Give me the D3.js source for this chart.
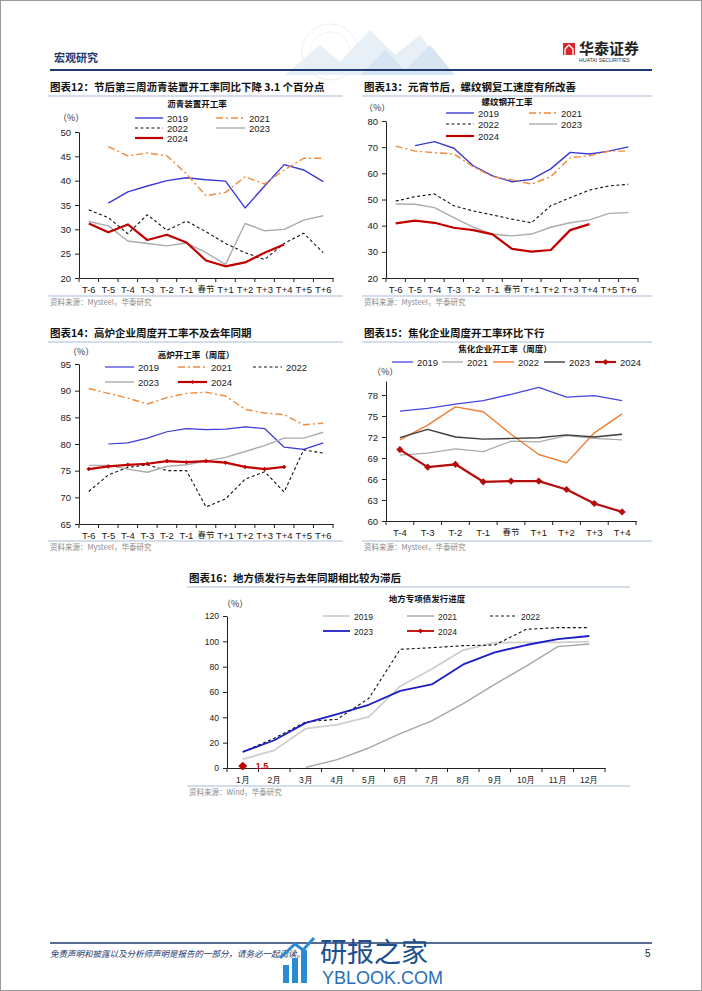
<!DOCTYPE html>
<html><head><meta charset="utf-8">
<script src="https://cdn.jsdelivr.net/npm/d3@7"></script>
<style>body{margin:0;background:#fff}svg{display:block}</style>
</head><body>
<svg id="c" width="702" height="991"></svg>
<script>
// ---------- DATA ----------
const catsT13 = ["T-6","T-5","T-4","T-3","T-2","T-1","春节","T+1","T+2","T+3","T+4","T+5","T+6"];
const catsT9 = ["T-4","T-3","T-2","T-1","春节","T+1","T+2","T+3","T+4"];
const months = ["1月","2月","3月","4月","5月","6月","7月","8月","9月","10月","11月","12月"];

const asphalt2019 = [null,35.4,37.7,38.9,40.0,40.6,40.2,39.9,34.4,38.9,43.3,42.2,39.8];
const asphalt2021 = [null,47.0,45.1,45.7,45.1,41.4,36.9,37.6,40.8,39.3,42.2,44.6,44.6];
const asphalt2022 = [34.0,32.4,29.1,33.0,29.8,31.7,29.5,27.1,25.2,23.8,27.1,29.2,25.2];
const asphalt2023 = [31.6,30.7,27.6,27.1,26.6,27.2,25.2,22.8,31.2,29.7,30.0,31.9,32.8];
const asphalt2024 = [31.2,29.4,31.0,27.8,28.9,27.3,23.6,22.4,23.2,25.2,26.9,null,null];

const rebar2019 = [null,70.6,72.1,69.6,62.9,59.0,56.8,57.7,61.7,68.0,67.4,68.5,70.1];
const rebar2021 = [70.4,68.5,67.9,67.4,62.5,58.7,57.5,55.9,58.7,66.0,66.7,68.5,68.5];
const rebar2022 = [49.4,51.1,52.1,47.6,45.6,44.1,42.5,41.1,47.6,50.7,53.6,55.2,55.8];
const rebar2023 = [48.3,48.2,46.9,43.1,39.4,36.8,36.1,36.8,39.4,41.1,42.2,44.7,45.0];
const rebar2024 = [40.9,41.9,41.1,39.2,38.3,36.7,31.1,30.1,30.7,38.3,40.6,null,null];

const blast2019 = [null,80.0,80.2,81.1,82.3,82.9,82.7,82.8,83.2,82.9,79.4,79.0,80.2];
const blast2021 = [90.4,89.5,88.6,87.5,88.7,89.5,89.7,89.0,86.5,85.8,85.5,83.6,83.9];
const blast2022 = [71.1,74.2,75.6,76.1,75.0,75.0,68.2,69.7,73.4,74.8,71.0,78.9,78.3];
const blast2023 = [76.0,76.0,75.3,74.7,75.8,76.1,76.8,77.5,78.6,79.7,81.1,81.1,82.2];
const blast2024 = [75.3,75.8,76.1,76.3,76.8,76.6,76.8,76.5,75.7,75.3,75.7,null,null];

const coke2019 = [75.7,76.1,76.7,77.2,78.1,79.1,77.7,77.9,77.2];
const coke2021 = [69.4,69.7,70.3,69.9,71.4,71.3,72.2,71.8,71.6];
const coke2022 = [71.6,73.7,76.3,75.6,72.4,69.5,68.3,72.6,75.3];
const coke2023 = [71.9,73.1,72.0,71.7,71.8,71.9,72.3,72.0,72.4];
const coke2024 = [70.2,67.7,68.1,65.6,65.7,65.7,64.5,62.5,61.3];

const bond2019 = [6.9,14.0,31.1,34.3,40.4,64.6,78.1,93.1,98.9,99.2,99.2,99.7];
const bond2021 = [null,null,0.5,6.6,15.8,27.2,37.2,50.9,66.0,80.5,95.8,97.9];
const bond2022 = [12.7,23.5,36.4,38.5,54.9,93.7,95.0,96.6,97.1,109.5,110.8,110.8];
const bond2023 = [12.7,21.9,35.6,42.5,49.9,60.9,66.0,81.8,91.3,97.1,101.8,104.2];
const bond2024 = [1.5,null,null,null,null,null,null,null,null,null,null,null];

const ticks12 = [20,25,30,35,40,45,50];
const ticks13 = [20,30,40,50,60,70,80];
const ticks14 = [65,70,75,80,85,90,95];
const ticks15 = [60,63,66,69,72,75,78];
const ticks16 = [0,20,40,60,80,100,120];

// ---------- DRAW ----------
const svg = d3.select("#c");
const CJK = "'Noto Sans CJK SC', sans-serif";
const LAT = "'Liberation Sans', Arial, sans-serif";
const NAVY = "#1f3a6e";
const SEP = "#a9bbd6";

svg.append("rect").attr("x",0.5).attr("y",0.5).attr("width",701).attr("height",990)
  .attr("fill","none").attr("stroke","#9a9a9a").attr("stroke-width",1);

// header faint graphic
const hg = svg.append("g").attr("opacity",0.35);
hg.append("circle").attr("cx",330).attr("cy",52).attr("r",28).attr("fill","none").attr("stroke","#c9d3e0").attr("stroke-width",1);
hg.append("circle").attr("cx",330).attr("cy",52).attr("r",20).attr("fill","none").attr("stroke","#d5dde8").attr("stroke-width",1);
hg.append("path").attr("d","M285,75 L320,45 L340,62 L370,30 L395,55 L420,35 L450,75 Z").attr("fill","#bcd3ea");
hg.append("path").attr("d","M360,75 L385,50 L405,70 L430,45 L455,75 Z").attr("fill","#8fb6dd");

svg.append("text").attr("x",54).attr("y",62).text("宏观研究")
  .attr("font-family",CJK).attr("font-weight",700).attr("font-size",11).attr("fill",NAVY);
svg.append("line").attr("x1",50).attr("x2",652).attr("y1",70).attr("y2",70).attr("stroke",NAVY).attr("stroke-width",2);
const lg = svg.append("g");
lg.append("rect").attr("x",563).attr("y",43).attr("width",12).attr("height",12).attr("fill","#d7262e");
lg.append("path").attr("d","M565,55 L565,49 L569,45 L573,49 L573,55").attr("fill","none").attr("stroke","#fff").attr("stroke-width",1.3);
lg.append("text").attr("x",579).attr("y",54).text("华泰证券").attr("font-family",CJK).attr("font-weight",700).attr("font-size",15).attr("fill","#222");
lg.append("text").attr("x",579).attr("y",62).text("HUATAI SECURITIES").attr("font-family",LAT).attr("font-size",5.2).attr("fill","#333");

const diamond = sz => d3.symbol(d3.symbolSquare, sz)();

function panel(cfg) {
  const g = svg.append("g");
  g.append("text").attr("x",cfg.tx).attr("y",cfg.ty).text(cfg.title)
    .attr("font-family",CJK).attr("font-weight",700).attr("font-size",10.5).attr("fill","#111");
  g.append("line").attr("x1",cfg.tx-2).attr("x2",cfg.tx2).attr("y1",cfg.ty+5).attr("y2",cfg.ty+5)
    .attr("stroke",SEP).attr("stroke-width",1);
  g.append("line").attr("x1",cfg.tx-2).attr("x2",cfg.tx2).attr("y1",cfg.sy-7).attr("y2",cfg.sy-7)
    .attr("stroke",SEP).attr("stroke-width",1);
  g.append("text").attr("x",cfg.tx).attr("y",cfg.sy+2).text(cfg.source)
    .attr("font-family",CJK).attr("font-size",7.5).attr("fill","#8a8a8a");
  g.append("text").attr("x",cfg.ctx).attr("y",cfg.cty).attr("text-anchor","middle").text(cfg.ctitle)
    .attr("font-family",CJK).attr("font-weight",700).attr("font-size",8.5).attr("fill","#111");
  g.append("text").attr("x",cfg.ux).attr("y",cfg.uy).text("（%）")
    .attr("font-family",CJK).attr("font-size",9).attr("fill","#333");

  const x = d3.scaleBand().domain(cfg.cats).range([cfg.x0,cfg.x1]).padding(0);
  const y = d3.scaleLinear().domain(cfg.yd).range([cfg.y0,cfg.y1]);
  const cx = c => x(c) + x.bandwidth()/2;

  const ya = g.append("g").attr("transform",`translate(${cfg.x0},0)`)
    .call(d3.axisLeft(y).tickValues(cfg.yticks).tickSize(4).tickSizeOuter(0).tickPadding(4));
  ya.selectAll("text").attr("font-family",LAT).attr("font-size",cfg.fs).attr("fill","#222");
  ya.selectAll("line,path").attr("stroke","#222");
  const xa = g.append("g").attr("transform",`translate(0,${cfg.y0})`)
    .call(d3.axisBottom(x).tickSize(0).tickSizeOuter(0).tickPadding(cfg.xpad || 8));
  xa.selectAll("text").attr("font-family",d => /[\u4e00-\u9fff]/.test(d) && !/月/.test(d) ? CJK : LAT)
    .attr("font-size",d => /[\u4e00-\u9fff]/.test(d) && !/月/.test(d) ? cfg.fs-1 : cfg.fs).attr("fill","#222");
  xa.select("path").attr("stroke","#222");
  const bounds = cfg.cats.map(c => x(c)).concat([cfg.x1]);
  g.append("g").selectAll("line").data(bounds).join("line")
    .attr("x1",d=>d).attr("x2",d=>d).attr("y1",cfg.y0).attr("y2",cfg.y0+4).attr("stroke","#222");

  cfg.series.forEach(s => {
    const pts = s.values.map((v,i) => ({c:cfg.cats[i], v}));
    const ln = d3.line().defined(d => d.v != null).x(d => cx(d.c)).y(d => y(d.v));
    g.append("path").datum(pts).attr("d",ln).attr("fill","none")
      .attr("stroke",s.color).attr("stroke-width",s.w).attr("stroke-dasharray",s.dash || null)
      .attr("stroke-linejoin","round");
    if (s.marker) {
      g.append("g").selectAll("path").data(pts.filter(d => d.v != null)).join("path")
        .attr("transform",d => `translate(${cx(d.c)},${y(d.v)}) rotate(45)`)
        .attr("d",diamond(s.marker)).attr("fill",s.color);
    }
    if (s.label) {
      pts.filter(d => d.v != null).forEach(d => {
        g.append("text").attr("x",cx(d.c)+13).attr("y",y(d.v)+3).text(d.v)
          .attr("font-family",LAT).attr("font-weight",700).attr("font-size",9).attr("fill",s.color);
      });
    }
  });

  cfg.legend.forEach(l => {
    const s = cfg.series[l.i];
    g.append("line").attr("x1",l.x).attr("x2",l.x+l.len).attr("y1",l.y).attr("y2",l.y)
      .attr("stroke",s.color).attr("stroke-width",s.w).attr("stroke-dasharray",s.dash || null);
    if (s.marker) {
      g.append("path").attr("transform",`translate(${l.x+l.len/2},${l.y}) rotate(45)`)
        .attr("d",diamond(s.lm || s.marker)).attr("fill",s.color);
    }
    g.append("text").attr("x",l.x+l.len+4).attr("y",l.y+3.5).text(s.name)
      .attr("font-family",LAT).attr("font-size",cfg.fs).attr("fill","#222");
  });
}

const BLUE = "#3a3ad6", ORANGE = "#ef8a3a", GRAY = "#ababab", RED = "#c00000";

panel({
  title:"图表12：节后第三周沥青装置开工率同比下降 3.1 个百分点", tx:50, ty:91, tx2:343, sy:303,
  source:"资料来源：Mysteel，华泰研究", ctitle:"沥青装置开工率", ctx:197, cty:107, ux:58, uy:121,
  cats:catsT13, x0:79, x1:333, yd:[20,50], y0:278, y1:132, yticks:ticks12, fs:9.5,
  series:[
    {name:"2019", values:asphalt2019, color:BLUE, w:1.4},
    {name:"2021", values:asphalt2021, color:ORANGE, w:1.4, dash:"7,3,2,3"},
    {name:"2022", values:asphalt2022, color:"#111", w:1.1, dash:"3,2.5"},
    {name:"2023", values:asphalt2023, color:GRAY, w:1.4},
    {name:"2024", values:asphalt2024, color:RED, w:2.2}
  ],
  legend:[{i:0,x:135,y:118,len:28},{i:1,x:216,y:118,len:29},{i:2,x:135,y:128,len:28},{i:3,x:216,y:128,len:29},{i:4,x:135,y:138,len:28}]
});

panel({
  title:"图表13：元宵节后，螺纹钢复工速度有所改善", tx:364, ty:91, tx2:652, sy:303,
  source:"资料来源：Mysteel，华泰研究", ctitle:"螺纹钢开工率", ctx:507, cty:105, ux:364, uy:111,
  cats:catsT13, x0:386, x1:638, yd:[20,80], y0:278, y1:121, yticks:ticks13, fs:9.5,
  series:[
    {name:"2019", values:rebar2019, color:BLUE, w:1.4},
    {name:"2021", values:rebar2021, color:ORANGE, w:1.4, dash:"7,3,2,3"},
    {name:"2022", values:rebar2022, color:"#111", w:1.1, dash:"3,2.5"},
    {name:"2023", values:rebar2023, color:GRAY, w:1.4},
    {name:"2024", values:rebar2024, color:RED, w:2.2}
  ],
  legend:[{i:0,x:446,y:113,len:28},{i:1,x:529,y:113,len:28},{i:2,x:446,y:124,len:28},{i:3,x:529,y:124,len:28},{i:4,x:446,y:136,len:28}]
});

panel({
  title:"图表14：高炉企业周度开工率不及去年同期", tx:50, ty:337, tx2:343, sy:548,
  source:"资料来源：Mysteel，华泰研究", ctitle:"高炉开工率（周度）", ctx:196, cty:358, ux:68, uy:355,
  cats:catsT13, x0:79, x1:333, yd:[65,95], y0:524, y1:364, yticks:ticks14, fs:9.5,
  series:[
    {name:"2019", values:blast2019, color:BLUE, w:1.2},
    {name:"2021", values:blast2021, color:ORANGE, w:1.4, dash:"7,3,2,3"},
    {name:"2022", values:blast2022, color:"#111", w:1.1, dash:"3,2.5"},
    {name:"2023", values:blast2023, color:GRAY, w:1.4},
    {name:"2024", values:blast2024, color:RED, w:2.2, marker:10, lm:8}
  ],
  legend:[{i:0,x:105,y:367,len:29},{i:1,x:178,y:367,len:29},{i:2,x:253,y:367,len:29},{i:3,x:105,y:382,len:29},{i:4,x:178,y:382,len:29}]
});

panel({
  title:"图表15：焦化企业周度开工率环比下行", tx:364, ty:337, tx2:652, sy:548,
  source:"资料来源：Mysteel，华泰研究", ctitle:"焦化企业开工率（周度）", ctx:505, cty:352, ux:372, uy:375,
  cats:catsT9, x0:386, x1:636, yd:[60,80], y0:521, y1:381, yticks:ticks15, fs:9.5,
  series:[
    {name:"2019", values:coke2019, color:"#4646e0", w:1.3},
    {name:"2021", values:coke2021, color:GRAY, w:1.3},
    {name:"2022", values:coke2022, color:"#ee7d31", w:1.4},
    {name:"2023", values:coke2023, color:"#3c3c3c", w:1.4},
    {name:"2024", values:coke2024, color:"#b50d0d", w:2.2, marker:26, lm:18}
  ],
  legend:[{i:0,x:392,y:362,len:21},{i:1,x:442,y:362,len:21},{i:2,x:493,y:362,len:21},{i:3,x:544,y:362,len:21},{i:4,x:595,y:362,len:21}]
});

panel({
  title:"图表16：地方债发行与去年同期相比较为滞后", tx:189, ty:582, tx2:630, sy:793,
  source:"资料来源：Wind，华泰研究", ctitle:"地方专项债发行进度", ctx:427, cty:602, ux:222, uy:607,
  cats:months, x0:227, x1:605, yd:[0,120], y0:768, y1:616, yticks:ticks16, fs:8.5, xpad:9,
  series:[
    {name:"2019", values:bond2019, color:"#cfcfcf", w:1.8},
    {name:"2021", values:bond2021, color:"#a6a6a6", w:1.4},
    {name:"2022", values:bond2022, color:"#111", w:1.1, dash:"3,2.5"},
    {name:"2023", values:bond2023, color:"#1c1cc8", w:1.8},
    {name:"2024", values:bond2024, color:"#c00000", w:1.8, marker:40, lm:12, label:true}
  ],
  legend:[{i:0,x:323,y:616,len:27},{i:1,x:407,y:616,len:27},{i:2,x:490,y:616,len:27},{i:3,x:323,y:631,len:27},{i:4,x:407,y:631,len:27}]
});

svg.append("line").attr("x1",50).attr("x2",652).attr("y1",943).attr("y2",943).attr("stroke",NAVY).attr("stroke-width",1.5);
svg.append("text").attr("x",50).attr("y",957).text("免责声明和披露以及分析师声明是报告的一部分，请务必一起阅读。")
  .attr("font-family",CJK).attr("font-style","italic").attr("font-size",8.5).attr("fill",NAVY);
svg.append("text").attr("x",645).attr("y",957).text("5").attr("font-family",LAT).attr("font-size",10).attr("fill","#222");
const wm = svg.append("g");
[[283,965,6,18],[292,958,6,25],[301,950,6,33]].forEach(b => {
  wm.append("rect").attr("x",b[0]).attr("y",b[1]).attr("width",b[2]).attr("height",b[3]).attr("fill","#2a8bd4");
});
wm.append("path").attr("d","M280,958 L295,944 L303,950 L314,938").attr("fill","none").attr("stroke","#2a8bd4").attr("stroke-width",3);
wm.append("text").attr("x",320).attr("y",962).text("研报之家").attr("font-family",CJK).attr("font-size",27).attr("fill","#1c4f8c");
wm.append("text").attr("x",322).attr("y",984).text("YBLOOK.COM").attr("font-family",LAT).attr("font-size",18).attr("fill","#2a6fb5");
</script>
</body></html>
